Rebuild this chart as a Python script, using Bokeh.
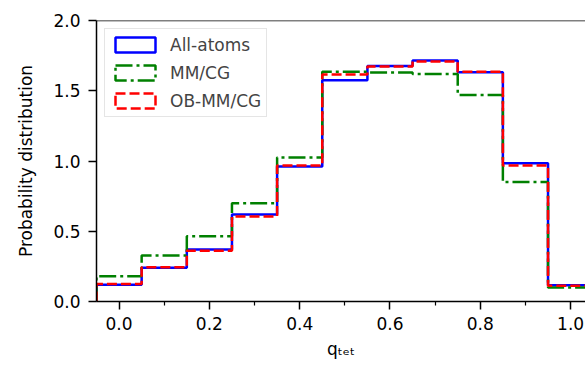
import numpy as np
from bokeh.plotting import figure
from bokeh.models import (Range1d, FixedTicker, NumeralTickFormatter, Span,
                          Legend, LegendItem, ColumnDataSource)
from bokeh.embed import file_html
from bokeh.resources import INLINE

# ---- data ----
bin_edges = [-0.05, 0.05, 0.15, 0.25, 0.35, 0.45, 0.55, 0.65, 0.75, 0.85, 0.95, 1.05]
all_atoms = [0.12, 0.24, 0.37, 0.62, 0.96, 1.575, 1.677, 1.716, 1.632, 0.984, 0.115]
mm_cg     = [0.18, 0.327, 0.465, 0.70, 1.025, 1.635, 1.63, 1.62, 1.47, 0.85, 0.10]
ob_mm_cg  = [0.125, 0.243, 0.361, 0.605, 0.968, 1.615, 1.672, 1.708, 1.636, 0.968, 0.112]
series_names = ["All-atoms", "MM/CG", "OB-MM/CG"]
x_ticks = [0.0, 0.2, 0.4, 0.6, 0.8, 1.0]
x_minor = [0.1, 0.3, 0.5, 0.7, 0.9]
y_ticks = [0.0, 0.5, 1.0, 1.5, 2.0]

FONT = "DejaVu Sans"

p = figure(width=585, height=372, output_backend="svg", toolbar_location=None,
           x_range=Range1d(-0.05, 1.033), y_range=Range1d(0.0, 2.0),
           min_border_left=96, min_border_right=0, min_border_top=20,
           min_border_bottom=71)
p.grid.visible = False
p.outline_line_color = None
p.background_fill_color = "white"


def step_coords(edges, vals):
    e = np.asarray(edges, dtype=float)
    v = np.asarray(vals, dtype=float)
    xs = np.concatenate([[e[0]], np.repeat(e, 2)[1:-1], [e[-1]]])
    ys = np.concatenate([[0.0], np.repeat(v, 2), [0.0]])
    return xs, ys


styles = [
    dict(color="blue", dash="solid"),
    dict(color="green", dash="17 4 3 4"),
    dict(color="red", dash="10 4"),
]
# legend proxies sit outside the visible x-range (only their legend glyph shows)
proxy = ColumnDataSource(dict(left=[-3.0], right=[-2.0], top=[1.0], bottom=[0.0]))
items = []
for name, vals, st in zip(series_names, [all_atoms, mm_cg, ob_mm_cg], styles):
    xs, ys = step_coords(bin_edges, vals)
    p.line(xs, ys, line_color=st["color"], line_width=2.5, line_dash=st["dash"])
    leg = p.quad(source=proxy, left="left", right="right", top="top", bottom="bottom",
                 fill_color=None, line_color=st["color"], line_width=2.5,
                 line_dash=st["dash"])
    items.append(LegendItem(label=name, renderers=[leg]))

legend = Legend(items=items, location="top_left", margin=8, padding=5,
                glyph_width=50, glyph_height=19, label_standoff=10,
                label_height=21, spacing=7,
                label_text_font=FONT, label_text_font_size="17px",
                border_line_color="#cccccc", border_line_width=1.5,
                background_fill_color="white", background_fill_alpha=0.8)
p.add_layout(legend)

# x axis
xa = p.xaxis[0]
xa.ticker = FixedTicker(ticks=x_ticks, minor_ticks=x_minor)
xa.formatter = NumeralTickFormatter(format="0.0")
xa.axis_label = "qₜₑₜ"
# y axis
ya = p.yaxis[0]
ya.ticker = FixedTicker(ticks=y_ticks)
ya.formatter = NumeralTickFormatter(format="0.0")
ya.axis_label = "Probability distribution"

for ax in (xa, ya):
    ax.axis_line_width = 1.5
    ax.axis_line_color = "black"
    ax.major_tick_line_width = 1.5
    ax.minor_tick_line_width = 1.2
    ax.major_tick_in = 0
    ax.major_tick_out = 8
    ax.minor_tick_in = 0
    ax.minor_tick_out = 4
    ax.major_label_text_font = FONT
    ax.major_label_text_font_size = "17px"
    ax.major_label_text_color = "black"
    ax.axis_label_text_font = FONT
    ax.axis_label_text_font_size = "17px"
    ax.axis_label_text_font_style = "normal"
    ax.axis_label_text_color = "black"
ya.minor_tick_line_color = None
xa.major_label_standoff = 7
xa.axis_label_standoff = 6
ya.major_label_standoff = 8
ya.axis_label_standoff = 14

# top spine
p.add_layout(Span(location=2.0, dimension="width", line_color="black", line_width=1.5))

open("out.html", "w").write(file_html(p, INLINE))
